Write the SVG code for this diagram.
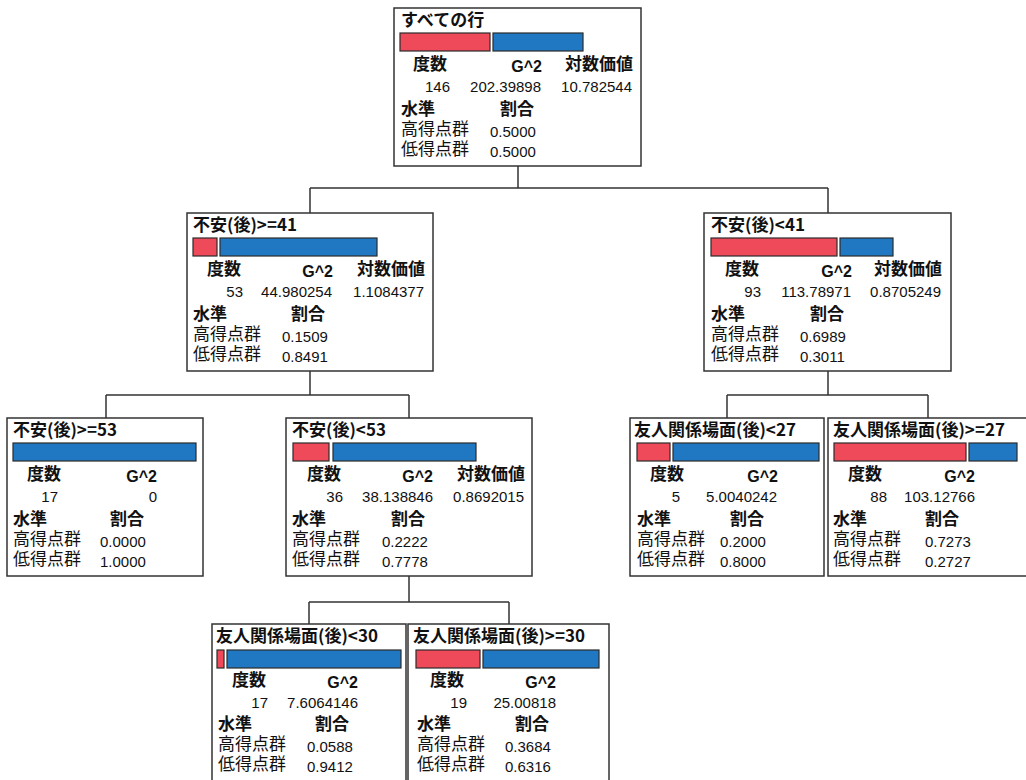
<svg xmlns="http://www.w3.org/2000/svg" width="1026" height="780" viewBox="0 0 1026 780">
<style>
.box{fill:#fff;stroke:#333;stroke-width:1.5}
.r{fill:#EE4A5A;stroke:#2b2b2b;stroke-width:1.2}
.b{fill:#1F78C1;stroke:#2b2b2b;stroke-width:1.2}
.ln{fill:none;stroke:#333;stroke-width:1.5}
text{fill:#111}
.t{font-family:"Noto Sans CJK JP","Liberation Sans",sans-serif;font-size:17px;font-weight:bold}
.l{font-family:"Noto Sans CJK JP","Liberation Sans",sans-serif;font-size:17px}
.n{font-family:"Liberation Sans",Arial,sans-serif;font-size:15px}
.g{font-family:"Liberation Sans",Arial,sans-serif;font-size:16px;font-weight:bold}
.e{text-anchor:end}
</style>
<rect width="1026" height="780" fill="#fff"/>
<g id="connectors">
<path class="ln" d="M518,166V188M310,188H828M310,188V213M828,188V213"/>
<path class="ln" d="M310,371V395M106,395H409M106,395V418M409,395V418"/>
<path class="ln" d="M828,371V395M727,395H928M727,395V418M928,395V418"/>
<path class="ln" d="M409,576V602M309,602H509M309,602V624M509,602V624"/>
</g>
<g id="root">
<rect class="box" x="394" y="8" width="247" height="158"/>
<text class="t" x="401" y="26">すべての行</text>
<rect class="r" x="400" y="33" width="90" height="18"/>
<rect class="b" x="493" y="33" width="90" height="18"/>
<text class="t" x="413" y="70">度数</text>
<text class="g e" x="542" y="72">G^2</text>
<text class="t e" x="633" y="70">対数価値</text>
<text class="n e" x="450" y="92">146</text>
<text class="n e" x="541" y="92">202.39898</text>
<text class="n e" x="632" y="92">10.782544</text>
<text class="t" x="401" y="115">水準</text>
<text class="t" x="500" y="115">割合</text>
<text class="l" x="401" y="135">高得点群</text>
<text class="n" x="490" y="137">0.5000</text>
<text class="l" x="401" y="155">低得点群</text>
<text class="n" x="490" y="157">0.5000</text>
</g>
<g id="node-anxiety-ge41">
<rect class="box" x="187" y="213" width="246" height="158"/>
<text class="t" x="193" y="231">不安(後)&gt;=41</text>
<rect class="r" x="193" y="238" width="24" height="18"/>
<rect class="b" x="220" y="238" width="157" height="18"/>
<text class="t" x="207" y="275">度数</text>
<text class="g e" x="333" y="277">G^2</text>
<text class="t e" x="425" y="275">対数価値</text>
<text class="n e" x="243" y="297">53</text>
<text class="n e" x="332" y="297">44.980254</text>
<text class="n e" x="424" y="297">1.1084377</text>
<text class="t" x="193" y="320">水準</text>
<text class="t" x="291" y="320">割合</text>
<text class="l" x="193" y="340">高得点群</text>
<text class="n" x="282" y="342">0.1509</text>
<text class="l" x="193" y="360">低得点群</text>
<text class="n" x="282" y="362">0.8491</text>
</g>
<g id="node-anxiety-lt41">
<rect class="box" x="704" y="213" width="247" height="158"/>
<text class="t" x="711" y="231">不安(後)&lt;41</text>
<rect class="r" x="711" y="238" width="126" height="18"/>
<rect class="b" x="840" y="238" width="53" height="18"/>
<text class="t" x="725" y="275">度数</text>
<text class="g e" x="852" y="277">G^2</text>
<text class="t e" x="942" y="275">対数価値</text>
<text class="n e" x="761" y="297">93</text>
<text class="n e" x="851" y="297">113.78971</text>
<text class="n e" x="941" y="297">0.8705249</text>
<text class="t" x="711" y="320">水準</text>
<text class="t" x="810" y="320">割合</text>
<text class="l" x="711" y="340">高得点群</text>
<text class="n" x="800" y="342">0.6989</text>
<text class="l" x="711" y="360">低得点群</text>
<text class="n" x="800" y="362">0.3011</text>
</g>
<g id="node-anxiety-ge53">
<rect class="box" x="7" y="418" width="196" height="158"/>
<text class="t" x="13" y="436">不安(後)&gt;=53</text>
<rect class="b" x="13" y="443" width="183" height="18"/>
<text class="t" x="27" y="480">度数</text>
<text class="g e" x="157" y="482">G^2</text>
<text class="n e" x="58" y="502">17</text>
<text class="n e" x="157" y="502">0</text>
<text class="t" x="13" y="525">水準</text>
<text class="t" x="110" y="525">割合</text>
<text class="l" x="13" y="545">高得点群</text>
<text class="n" x="100" y="547">0.0000</text>
<text class="l" x="13" y="565">低得点群</text>
<text class="n" x="100" y="567">1.0000</text>
</g>
<g id="node-anxiety-lt53">
<rect class="box" x="286" y="418" width="246" height="158"/>
<text class="t" x="292" y="436">不安(後)&lt;53</text>
<rect class="r" x="293" y="443" width="36" height="18"/>
<rect class="b" x="333" y="443" width="143" height="18"/>
<text class="t" x="307" y="480">度数</text>
<text class="g e" x="433" y="482">G^2</text>
<text class="t e" x="525" y="480">対数価値</text>
<text class="n e" x="343" y="502">36</text>
<text class="n e" x="433" y="502">38.138846</text>
<text class="n e" x="524" y="502">0.8692015</text>
<text class="t" x="292" y="525">水準</text>
<text class="t" x="391" y="525">割合</text>
<text class="l" x="292" y="545">高得点群</text>
<text class="n" x="382" y="547">0.2222</text>
<text class="l" x="292" y="565">低得点群</text>
<text class="n" x="382" y="567">0.7778</text>
</g>
<g id="node-friend-lt27">
<rect class="box" x="630" y="418" width="194" height="158"/>
<text class="t" x="634" y="436">友人関係場面(後)&lt;27</text>
<rect class="r" x="637" y="443" width="33" height="18"/>
<rect class="b" x="673" y="443" width="146" height="18"/>
<text class="t" x="650" y="480">度数</text>
<text class="g e" x="778" y="482">G^2</text>
<text class="n e" x="680" y="502">5</text>
<text class="n e" x="777" y="502">5.0040242</text>
<text class="t" x="637" y="525">水準</text>
<text class="t" x="730" y="525">割合</text>
<text class="l" x="637" y="545">高得点群</text>
<text class="n" x="720" y="547">0.2000</text>
<text class="l" x="637" y="565">低得点群</text>
<text class="n" x="720" y="567">0.8000</text>
</g>
<g id="node-friend-ge27">
<rect class="box" x="828" y="418" width="204" height="158"/>
<text class="t" x="833" y="436">友人関係場面(後)&gt;=27</text>
<rect class="r" x="834" y="443" width="132" height="18"/>
<rect class="b" x="969" y="443" width="48" height="18"/>
<text class="t" x="848" y="480">度数</text>
<text class="g e" x="975" y="482">G^2</text>
<text class="n e" x="887" y="502">88</text>
<text class="n e" x="975" y="502">103.12766</text>
<text class="t" x="833" y="525">水準</text>
<text class="t" x="925" y="525">割合</text>
<text class="l" x="833" y="545">高得点群</text>
<text class="n" x="925" y="547">0.7273</text>
<text class="l" x="833" y="565">低得点群</text>
<text class="n" x="925" y="567">0.2727</text>
</g>
<g id="node-friend-lt30">
<rect class="box" x="212" y="624" width="194" height="170"/>
<text class="t" x="216" y="642">友人関係場面(後)&lt;30</text>
<rect class="r" x="217" y="650" width="7" height="18"/>
<rect class="b" x="227" y="650" width="174" height="18"/>
<text class="t" x="232" y="686">度数</text>
<text class="g e" x="358" y="688">G^2</text>
<text class="n e" x="268" y="708">17</text>
<text class="n e" x="358" y="708">7.6064146</text>
<text class="t" x="218" y="730">水準</text>
<text class="t" x="315" y="730">割合</text>
<text class="l" x="218" y="750">高得点群</text>
<text class="n" x="307" y="752">0.0588</text>
<text class="l" x="218" y="770">低得点群</text>
<text class="n" x="307" y="772">0.9412</text>
</g>
<g id="node-friend-ge30">
<rect class="box" x="408" y="624" width="201" height="170"/>
<text class="t" x="413" y="642">友人関係場面(後)&gt;=30</text>
<rect class="r" x="416" y="650" width="64" height="18"/>
<rect class="b" x="483" y="650" width="116" height="18"/>
<text class="t" x="430" y="686">度数</text>
<text class="g e" x="556" y="688">G^2</text>
<text class="n e" x="467" y="708">19</text>
<text class="n e" x="556" y="708">25.00818</text>
<text class="t" x="417" y="730">水準</text>
<text class="t" x="515" y="730">割合</text>
<text class="l" x="417" y="750">高得点群</text>
<text class="n" x="505" y="752">0.3684</text>
<text class="l" x="417" y="770">低得点群</text>
<text class="n" x="505" y="772">0.6316</text>
</g>
</svg>
